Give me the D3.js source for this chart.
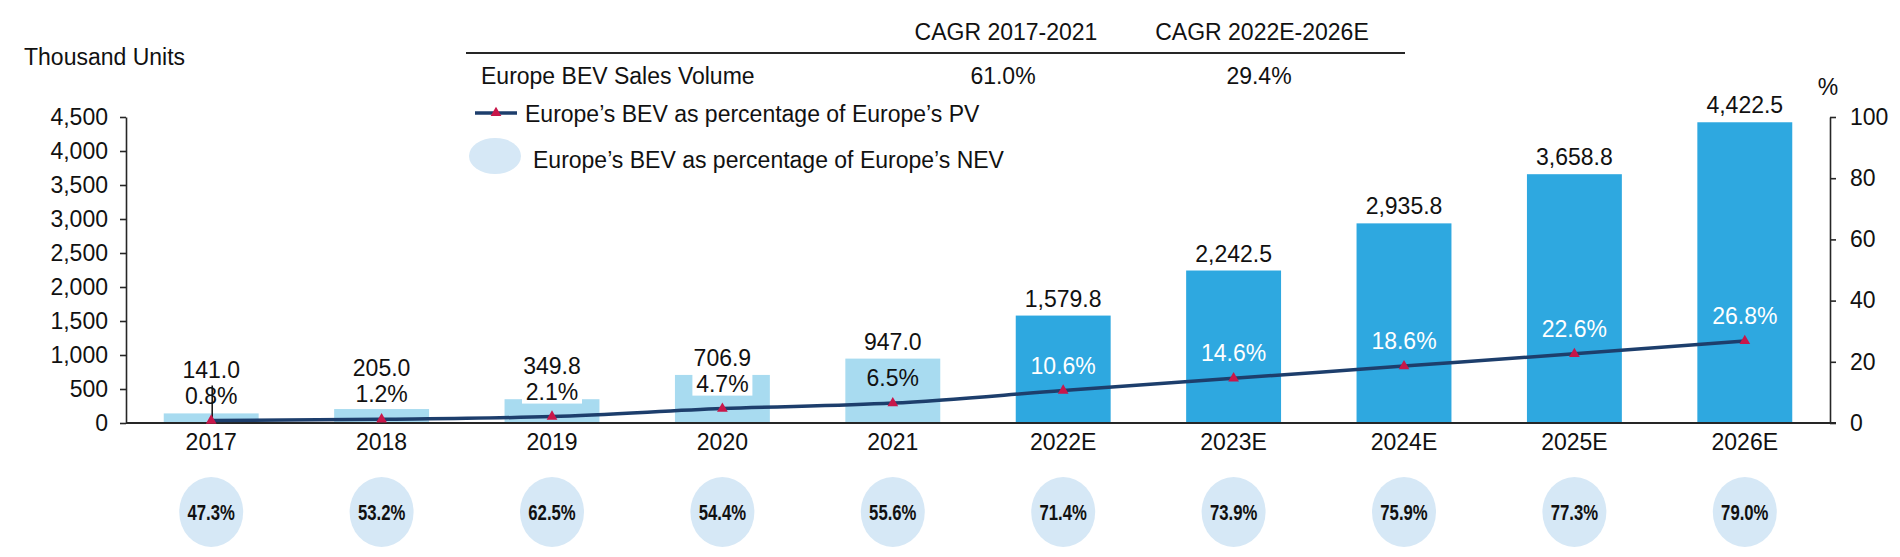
<!DOCTYPE html>
<html><head><meta charset="utf-8">
<script src="https://cdn.jsdelivr.net/npm/d3@7"></script>
<style>
body{margin:0;background:#fff}
svg{display:block}
text{font-family:"Liberation Sans",Arial,sans-serif;fill:#111}
</style>
</head><body>
<svg id="c" width="1900" height="557"></svg>
<script>
// ---------- data ----------
const categories = ["2017","2018","2019","2020","2021","2022E","2023E","2024E","2025E","2026E"];
const salesVolume = [141.0,205.0,349.8,706.9,947.0,1579.8,2242.5,2935.8,3658.8,4422.5];
const bevShareOfPV = [0.8,1.2,2.1,4.7,6.5,10.6,14.6,18.6,22.6,26.8];
const bevShareOfNEV = [47.3,53.2,62.5,54.4,55.6,71.4,73.9,75.9,77.3,79.0];
const leftTicks = [0,500,1000,1500,2000,2500,3000,3500,4000,4500];
const rightTicks = [0,20,40,60,80,100];
const cagrHeaders = ["CAGR 2017-2021","CAGR 2022E-2026E"];
const cagrRowLabel = "Europe BEV Sales Volume";
const cagrValues = ["61.0%","29.4%"];
const legendLabels = ["Europe\u2019s BEV as percentage of Europe\u2019s PV","Europe\u2019s BEV as percentage of Europe\u2019s NEV"];
const leftUnit = "Thousand Units";
const rightUnit = "%";

// ---------- layout ----------
const svg = d3.select("#c");
const X0 = 126, X1 = 1830, Y0 = 423, Y1 = 117;
const FS = 23;
const LIGHT = "#a8dbf0", DARK = "#2ea8e0", NAVY = "#1d3e6c", RED = "#c8174a", AXIS = "#262626", OVAL = "#d6e8f6";

const x = d3.scaleBand().domain(categories).range([X0, X1]).paddingInner(0.443).paddingOuter(0.2215);
const y = d3.scaleLinear().domain([0, 4500]).range([Y0, Y1]);
const y2 = d3.scaleLinear().domain([0, 100]).range([Y0, Y1]);
const cx = c => x(c) + x.bandwidth() / 2;
const isEst = c => c.endsWith("E");

// bars
svg.append("g").selectAll("rect").data(categories).join("rect")
  .attr("x", c => x(c)).attr("width", x.bandwidth())
  .attr("y", (c, i) => y(salesVolume[i]))
  .attr("height", (c, i) => Y0 - y(salesVolume[i]))
  .attr("fill", c => isEst(c) ? DARK : LIGHT);

// axes
const gl = svg.append("g").attr("transform", `translate(${X0},0)`)
  .call(d3.axisLeft(y).tickValues(leftTicks).tickFormat(d3.format(",")).tickSize(6).tickSizeOuter(0).tickPadding(12));
const gr = svg.append("g").attr("transform", `translate(${X1},0)`)
  .call(d3.axisRight(y2).tickValues(rightTicks).tickSize(6).tickSizeOuter(0).tickPadding(14));
[gl, gr].forEach(g => {
  g.selectAll("path,line").attr("stroke", AXIS).attr("stroke-width", 1.6);
  g.selectAll("text").attr("font-size", FS).attr("font-family", '"Liberation Sans",Arial,sans-serif').attr("fill", "#111");
});
svg.append("line").attr("x1", X0).attr("x2", X1 + 6).attr("y1", Y0).attr("y2", Y0)
  .attr("stroke", AXIS).attr("stroke-width", 1.8);

// x labels
svg.append("g").selectAll("text").data(categories).join("text")
  .attr("x", c => cx(c)).attr("y", 442).attr("dy", "0.35em").attr("text-anchor", "middle")
  .attr("font-size", FS).text(c => c);

// percentage label backgrounds
const pctY = i => y2(bevShareOfPV[i]) - 25;
const lab = svg.append("g");
categories.forEach((c, i) => {
  const top = y(salesVolume[i]);
  const py = pctY(i);
  if (!isEst(c) && py - 12 < top && top < py + 12) {
    lab.append("rect").attr("x", cx(c) - 30).attr("width", 60)
      .attr("y", py - 12).attr("height", 24).attr("fill", "#fff");
  }
});

// line
const line = d3.line().x((d, i) => cx(categories[i])).y(d => y2(d)).curve(d3.curveMonotoneX);
svg.append("path").datum(bevShareOfPV).attr("d", line)
  .attr("fill", "none").attr("stroke", NAVY).attr("stroke-width", 3.5);

// leader line for first category
svg.append("line").attr("x1", cx(categories[0]) + 1).attr("x2", cx(categories[0]) + 1)
  .attr("y1", pctY(0) - 10).attr("y2", y2(bevShareOfPV[0]))
  .attr("stroke", "#111").attr("stroke-width", 1.5);

// markers
const tri = d3.symbol(d3.symbolTriangle, 50);
svg.append("g").selectAll("path").data(bevShareOfPV).join("path")
  .attr("d", tri)
  .attr("transform", (d, i) => `translate(${cx(categories[i])},${y2(d)})`)
  .attr("fill", RED);

// pct text
svg.append("g").selectAll("text").data(categories).join("text")
  .attr("x", c => cx(c)).attr("y", (c, i) => pctY(i)).attr("dy", "0.35em")
  .attr("text-anchor", "middle").attr("font-size", FS)
  .style("fill", c => isEst(c) ? "#fff" : "#111")
  .text((c, i) => bevShareOfPV[i].toFixed(1) + "%");

// value labels
const fmt = d3.format(",.1f");
svg.append("g").selectAll("text").data(categories).join("text")
  .attr("x", c => cx(c))
  .attr("y", (c, i) => Math.min(y(salesVolume[i]) - 17, pctY(i) - 26)).attr("dy", "0.35em")
  .attr("text-anchor", "middle").attr("font-size", FS)
  .text((c, i) => fmt(salesVolume[i]));

// NEV ovals
const ov = svg.append("g").selectAll("g").data(categories).join("g")
  .attr("transform", c => `translate(${cx(c)},512)`);
ov.append("ellipse").attr("rx", 32).attr("ry", 35).attr("fill", OVAL);
ov.append("text").attr("text-anchor", "middle").attr("dy", "0.36em")
  .attr("font-size", 22).attr("font-weight", "bold")
  .attr("transform", "scale(0.76,1)")
  .text((c, i) => bevShareOfNEV[i].toFixed(1) + "%");

// units
svg.append("text").attr("x", 24).attr("y", 57).attr("dy", "0.35em").attr("font-size", FS).text(leftUnit);
svg.append("text").attr("x", 1828).attr("y", 87).attr("dy", "0.35em").attr("text-anchor", "middle").attr("font-size", FS).text(rightUnit);

// CAGR table
const colX = [1006, 1262];
svg.append("line").attr("x1", 466).attr("x2", 1405).attr("y1", 53).attr("y2", 53)
  .attr("stroke", AXIS).attr("stroke-width", 2);
svg.append("g").selectAll("text").data(cagrHeaders).join("text")
  .attr("x", (d, i) => colX[i]).attr("y", 32).attr("dy", "0.35em").attr("text-anchor", "middle").attr("font-size", FS).text(d => d);
svg.append("text").attr("x", 481).attr("y", 76).attr("dy", "0.35em").attr("font-size", FS).text(cagrRowLabel);
svg.append("g").selectAll("text").data(cagrValues).join("text")
  .attr("x", (d, i) => colX[i] - 3).attr("y", 76).attr("dy", "0.35em").attr("text-anchor", "middle").attr("font-size", FS).text(d => d);

// legend
svg.append("line").attr("x1", 475).attr("x2", 517).attr("y1", 113).attr("y2", 113)
  .attr("stroke", NAVY).attr("stroke-width", 3.5);
svg.append("path").attr("d", tri).attr("transform", "translate(496,113)").attr("fill", RED);
svg.append("text").attr("x", 525).attr("y", 114).attr("dy", "0.35em").attr("font-size", FS).text(legendLabels[0]);
svg.append("ellipse").attr("cx", 495).attr("cy", 156).attr("rx", 26).attr("ry", 18).attr("fill", OVAL);
svg.append("text").attr("x", 533).attr("y", 160).attr("dy", "0.35em").attr("font-size", FS).text(legendLabels[1]);
</script>
</body></html>
